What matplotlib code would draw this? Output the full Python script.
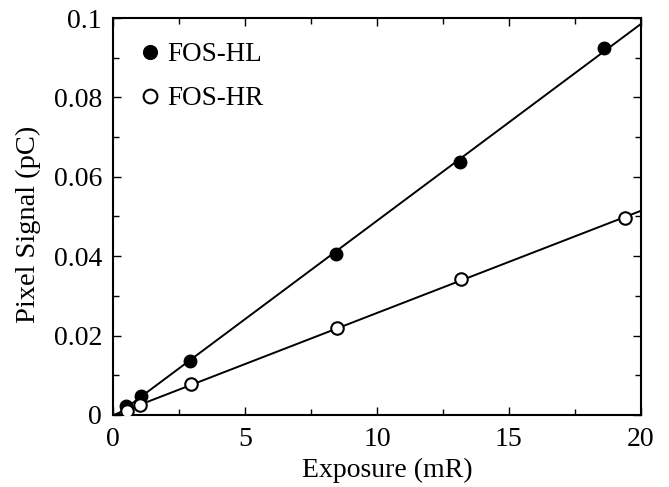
import matplotlib.pyplot as plt
import numpy as np

plt.rcParams['font.family'] = 'Liberation Serif'

# exposure (mR) and pixel signal (pC) for the two sensors
exp_hl = [0.49, 1.05, 2.92, 8.45, 13.14, 18.6]
sig_hl = [0.0022, 0.0048, 0.0137, 0.0406, 0.0637, 0.0924]
exp_hr = [0.53, 1.02, 2.95, 8.48, 13.2, 19.4]
sig_hr = [0.0010, 0.0026, 0.0077, 0.0218, 0.0343, 0.0496]

fig = plt.figure(figsize=(6.69, 4.87), dpi=100)
ax = fig.add_axes([0.169, 0.148, 0.789, 0.815])

# least-squares lines through each set
xx = np.array([0, 20])
for x, y in [(exp_hl, sig_hl), (exp_hr, sig_hr)]:
    k, b = np.polyfit(x, y, 1)
    ax.plot(xx, k * xx + b, color='black', lw=1.4, zorder=2)

ax.plot(exp_hl, sig_hl, 'o', color='black', ms=9, label='FOS-HL', zorder=3)
ax.plot(exp_hr, sig_hr, 'o', mfc='white', mec='black', mew=1.5, ms=9,
        label='FOS-HR', zorder=3)

ax.set_xlim(0, 20)
ax.set_ylim(0, 0.1)
ax.set_xticks([0, 5, 10, 15, 20])
ax.set_xticks([2.5, 7.5, 12.5, 17.5], minor=True)
ax.set_yticks([0, 0.02, 0.04, 0.06, 0.08, 0.1])
ax.set_yticklabels(['0', '0.02', '0.04', '0.06', '0.08', '0.1'])
ax.set_yticks([0.01, 0.03, 0.05, 0.07, 0.09], minor=True)
ax.tick_params(which='both', direction='in', top=True, right=True,
               labelsize=20, width=1)
ax.tick_params(which='major', length=6)
ax.tick_params(which='minor', length=4)
ax.tick_params(axis='x', which='major', pad=9)
ax.tick_params(axis='y', which='major', pad=8)
for s in ax.spines.values():
    s.set_linewidth(1.5)

ax.set_xlabel('Exposure (mR)', fontsize=20, labelpad=4, x=0.519)
ax.set_ylabel('Pixel Signal (pC)', fontsize=20.5, labelpad=9, y=0.479)

ax.legend(loc='upper left', bbox_to_anchor=(0.029, 0.966), borderaxespad=0,
          frameon=False, fontsize=19.5, numpoints=1, handlelength=0.8,
          handletextpad=0.25, labelspacing=0.7, markerscale=1.1)

fig.savefig('out.png', dpi=100)
